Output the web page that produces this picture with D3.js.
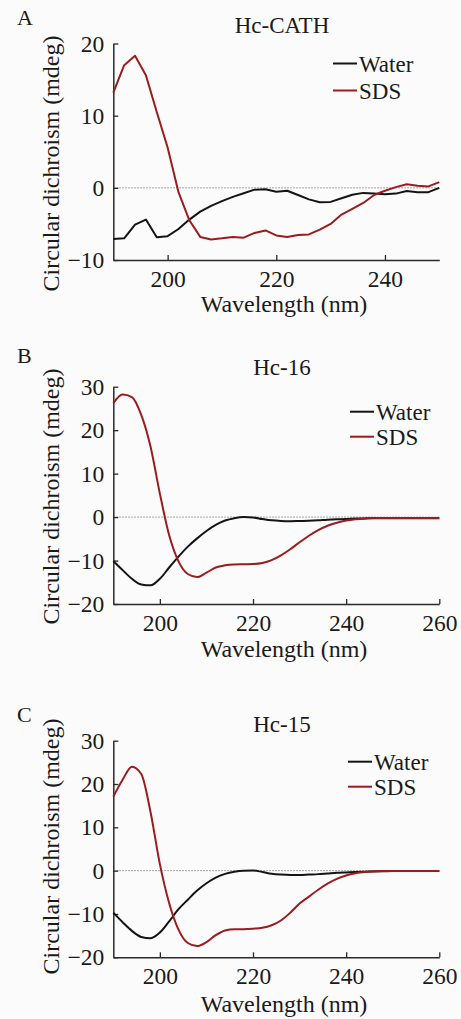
<!DOCTYPE html>
<html><head><meta charset="utf-8">
<script src="https://cdn.jsdelivr.net/npm/d3@7/dist/d3.min.js"></script>
<style>
body{margin:0;background:#fbfbfb}
svg{display:block}
</style>
</head><body>
<svg id="chart" width="461" height="1019"></svg>
<script>
// ---------- data ----------
const seriesNames = ["Water", "SDS"];
const panelLetters = ["A", "B", "C"];
const panelTitles = ["Hc-CATH", "Hc-16", "Hc-15"];
const xLabel = "Wavelength (nm)";
const yLabel = "Circular dichroism (mdeg)";

const wavelengthA = [190,192,194,196,198,200,202,204,206,208,210,212,214,216,218,220,222,224,226,228,230,232,234,236,238,240,242,244,246,248,250];
const waterA = [-7.1,-7.0,-5.1,-4.4,-6.85,-6.7,-5.7,-4.4,-3.3,-2.5,-1.85,-1.25,-0.75,-0.25,-0.2,-0.55,-0.4,-1.0,-1.6,-2.0,-1.95,-1.45,-0.95,-0.7,-0.8,-0.9,-0.8,-0.45,-0.6,-0.6,0];
const sdsA = [13.2,17.0,18.3,15.6,10.5,5.6,-0.6,-4.5,-6.8,-7.15,-7.0,-6.8,-6.9,-6.25,-5.9,-6.6,-6.8,-6.55,-6.45,-5.8,-5.0,-3.7,-2.9,-2.1,-1.0,-0.4,0.1,0.5,0.3,0.2,0.8];

const wavelengthBC = [190,192,194,196,198,200,202,204,206,208,210,212,214,216,218,220,222,224,226,228,230,232,234,236,238,240,242,244,246,248,250,252,254,256,258,260];
const waterB = [-10.1,-12.2,-14.2,-15.5,-15.7,-14.2,-11.6,-9.1,-6.8,-4.9,-3.2,-1.8,-0.8,-0.25,0.0,-0.1,-0.45,-0.75,-0.9,-0.95,-0.9,-0.85,-0.75,-0.6,-0.5,-0.45,-0.35,-0.3,-0.25,-0.25,-0.25,-0.25,-0.25,-0.25,-0.25,-0.25];
const sdsB = [26.2,28.2,27.6,23.5,16.2,5.4,-4.2,-10.2,-13.1,-13.8,-12.8,-11.6,-11.1,-10.9,-10.85,-10.8,-10.55,-9.9,-8.8,-7.4,-5.8,-4.3,-3.0,-2.0,-1.3,-0.8,-0.5,-0.3,-0.2,-0.2,-0.2,-0.2,-0.2,-0.2,-0.2,-0.2];
const waterC = [-9.7,-11.9,-13.9,-15.3,-15.6,-14.3,-11.7,-8.9,-6.7,-4.6,-2.9,-1.6,-0.75,-0.25,0.0,0.05,-0.3,-0.7,-0.9,-1.0,-1.0,-0.9,-0.8,-0.65,-0.5,-0.4,-0.3,-0.25,-0.2,-0.15,-0.1,-0.1,-0.1,-0.1,-0.1,-0.1];
const sdsC = [17.1,21.0,24.0,22.3,13.5,1.5,-7.5,-13.6,-16.7,-17.4,-16.5,-14.9,-13.8,-13.5,-13.5,-13.4,-13.2,-12.6,-11.5,-9.7,-7.6,-6.0,-4.4,-3.0,-1.9,-1.1,-0.6,-0.3,-0.15,-0.1,-0.1,-0.1,-0.1,-0.1,-0.1,-0.1];

const xTicksA = [200,220,240];
const xTicksBC = [200,220,240,260];
const yTicksA = [-10,0,10,20];
const yTicksBC = [-20,-10,0,10,20,30];

// ---------- layout ----------
const FONT = "font-family:'Liberation Serif',serif;fill:#1a1a1a";
const colors = {Water:"#141414", SDS:"#9a1c1e"};
const panels = [
  {letter:panelLetters[0], title:panelTitles[0], wl:wavelengthA, water:waterA, sds:sdsA,
   xDom:[190,250], yDom:[-10,20], xTicks:xTicksA, yTicks:yTicksA,
   x0:113.3, x1:439.3, yTop:43.5, yBot:260, smooth:false,
   letterY:25, titleY:33, xTitleY:312, yTitleC:163.5, legX:333, legY:63.5, legGap:27},
  {letter:panelLetters[1], title:panelTitles[1], wl:wavelengthBC, water:waterB, sds:sdsB,
   xDom:[190,260], yDom:[-20,30], xTicks:xTicksBC, yTicks:yTicksBC,
   x0:113.3, x1:439.3, yTop:386.7, yBot:604, smooth:true,
   letterY:363, titleY:375, xTitleY:657, yTitleC:496.5, legX:350, legY:411.7, legGap:25},
  {letter:panelLetters[2], title:panelTitles[2], wl:wavelengthBC, water:waterC, sds:sdsC,
   xDom:[190,260], yDom:[-20,30], xTicks:xTicksBC, yTicks:yTicksBC,
   x0:113.3, x1:439.3, yTop:740.7, yBot:957.3, smooth:true,
   letterY:721.7, titleY:731.7, xTitleY:1012, yTitleC:846.5, legX:348, legY:761.7, legGap:25}
];

const svg = d3.select("#chart");
svg.append("rect").attr("width",461).attr("height",1019).attr("fill","#fbfbfb");

panels.forEach(p => {
  const g = svg.append("g");
  const x = d3.scaleLinear().domain(p.xDom).range([p.x0, p.x1]);
  const y = d3.scaleLinear().domain(p.yDom).range([p.yBot, p.yTop]);

  // zero dotted line
  g.append("line")
    .attr("x1", x(p.xDom[0])).attr("x2", x(p.xDom[1]))
    .attr("y1", y(0)).attr("y2", y(0))
    .attr("stroke","#8a8a8a").attr("stroke-width",1).attr("stroke-dasharray","1.5,1.5");

  // axes
  const xAxis = d3.axisBottom(x).tickValues(p.xTicks).tickSizeInner(-5).tickSizeOuter(0).tickPadding(10).tickFormat(d3.format("d"));
  const yAxis = d3.axisLeft(y).tickValues(p.yTicks).tickSizeInner(-5).tickSizeOuter(0).tickPadding(9).tickFormat(d3.format("d"));
  const gx = g.append("g").attr("transform",`translate(0,${p.yBot})`).call(xAxis);
  const gy = g.append("g").attr("transform",`translate(${p.x0},0)`).call(yAxis);
  [gx, gy].forEach(a => {
    a.attr("font-family", null);
    a.select(".domain").attr("stroke","#2a2a2a").attr("stroke-width",1.5);
    a.selectAll(".tick line").attr("stroke","#2a2a2a").attr("stroke-width",1.3);
    a.selectAll(".tick text").attr("font-size",23.5).attr("style",FONT);
  });
  gx.selectAll(".tick text").attr("dy","0.71em");

  // lines
  const line = d3.line()
    .x((d,i) => x(p.wl[i]))
    .y(d => y(d))
    .curve(p.smooth ? d3.curveMonotoneX : d3.curveLinear);
  [["Water", p.water], ["SDS", p.sds]].forEach(([name, vals]) => {
    g.append("path").datum(vals)
      .attr("d", line)
      .attr("fill","none")
      .attr("stroke", colors[name])
      .attr("stroke-width", 2)
      .attr("stroke-linejoin","round");
  });

  // legend
  seriesNames.forEach((name, i) => {
    const ly = p.legY + i * p.legGap;
    g.append("line").attr("x1", p.legX).attr("x2", p.legX + 24)
      .attr("y1", ly).attr("y2", ly).attr("stroke", colors[name]).attr("stroke-width", 2);
    g.append("text").attr("x", p.legX + 26).attr("y", ly + 8)
      .attr("font-size", 23).attr("style",FONT).text(name);
  });

  // titles
  g.append("text").attr("x", 17).attr("y", p.letterY).attr("font-size", 22).attr("style",FONT).text(p.letter);
  g.append("text").attr("x", 282).attr("y", p.titleY).attr("text-anchor","middle").attr("font-size", 23).attr("style",FONT).text(p.title);
  g.append("text").attr("x", 284).attr("y", p.xTitleY).attr("text-anchor","middle").attr("font-size", 24).attr("style",FONT).text(xLabel);
  g.append("text").attr("transform", `translate(59,${p.yTitleC}) rotate(-90)`)
    .attr("text-anchor","middle").attr("font-size", 24).attr("style",FONT).text(yLabel);
});
</script>
</body></html>
